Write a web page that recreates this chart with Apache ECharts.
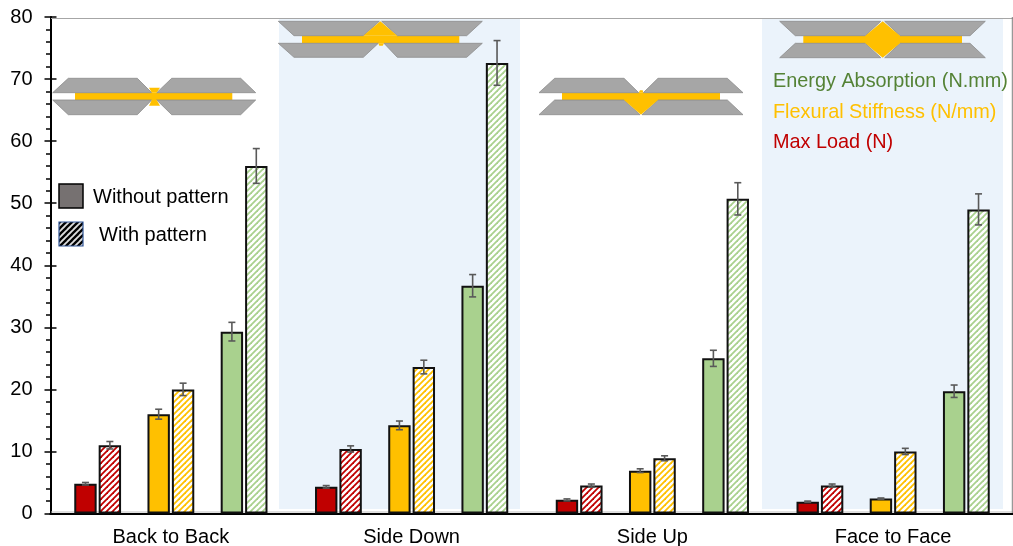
<!DOCTYPE html>
<html><head><meta charset="utf-8">
<style>html,body{margin:0;padding:0;background:#fff}#c{width:1013px;height:546px}</style>
<script src="https://cdn.jsdelivr.net/npm/echarts@6/dist/echarts.min.js"></script>
</head><body><div id="c"></div>
<script>
const categories = ['Back to Back','Side Down','Side Up','Face to Face'];
const maxLoadPlain = [4.8,4.3,2.2,1.9];
const maxLoadPattern = [11,10.4,4.5,4.5];
const stiffnessPlain = [16,14.2,6.9,2.4];
const stiffnessPattern = [20,23.6,8.9,10];
const energyPlain = [29.3,36.7,25,19.7];
const energyPattern = [56,72.6,50.7,49];
const maxLoadPlainErr = [0.2,0.2,0.15,0.1];
const maxLoadPatternErr = [0.6,0.5,0.25,0.25];
const stiffnessPlainErr = [0.8,0.7,0.3,0.1];
const stiffnessPatternErr = [1,1.1,0.4,0.5];
const energyPlainErr = [1.5,1.8,1.3,1.0];
const energyPatternErr = [2.8,3.6,2.6,2.5];
const legendLabels = ['Without pattern','With pattern'];
const metricLabels = ['Energy Absorption (N.mm)','Flexural Stiffness (N/mm)','Max Load (N)'];

const RED='#C00000', YEL='#FFC000', GRN='#A9D18E';
const FONT='"Liberation Sans",Arial,sans-serif';
const BAR_SHARE=0.093, BAR_GAP=0.09;
function hatch(color,bg,w){
  const p=6,c=document.createElement('canvas');c.width=p;c.height=p;
  const x=c.getContext('2d');x.fillStyle=bg||'#fff';x.fillRect(0,0,p,p);
  x.strokeStyle=color;x.lineWidth=w||1.8;
  [[-p,p,p,-p],[0,p,p,0],[0,2*p,2*p,0]].forEach(l=>{x.beginPath();x.moveTo(l[0],l[1]);x.lineTo(l[2],l[3]);x.stroke();});
  return {image:c,repeat:'repeat'};
}
const bar=(name,data,color)=>({name,type:'bar',data,barWidth:(BAR_SHARE*100)+'%',barGap:(BAR_GAP*100)+'%',
  itemStyle:{color,borderColor:'#111',borderWidth:2},emphasis:{disabled:true}});
const spacer=n=>({name:n,type:'bar',data:categories.map(()=>null),barWidth:(BAR_SHARE*100)+'%',barGap:(BAR_GAP*100)+'%'});

const sets=[[maxLoadPlain,maxLoadPlainErr,-3.5],[maxLoadPattern,maxLoadPatternErr,-2.5],
  [stiffnessPlain,stiffnessPlainErr,-0.5],[stiffnessPattern,stiffnessPatternErr,0.5],
  [energyPlain,energyPlainErr,2.5],[energyPattern,energyPatternErr,3.5]];
const errRows=[];
sets.forEach(s=>s[0].forEach((v,i)=>errRows.push([i,v-s[1][i],v+s[1][i],s[2]])));

const PLATE={fill:'#A6A6A6',stroke:'#8C8C8C',lineWidth:0.8};
const YS={fill:'#FFC000'};
const poly=(points,style)=>({type:'polygon',shape:{points},style,z:3,silent:true});
const rect=(x,y,w,h,style,z)=>({type:'rect',shape:{x,y,width:w,height:h},style,z:z==null?3:z,silent:true});
const line=(x1,y1,x2,y2,stroke,lineWidth)=>({type:'line',shape:{x1,y1,x2,y2},style:{stroke,lineWidth},z:1,silent:true});
const text=(x,y,t,fill,size)=>({type:'text',x,y,style:{text:t,fill,font:(size||19.85)+'px '+FONT,textVerticalAlign:'middle',textAlign:'left'},z:4,silent:true});

const graphics=[
 rect(279,18.5,241,490.5,{fill:'#EBF3FB'},0),
 rect(762,18.5,241,490.5,{fill:'#EBF3FB'},0),
 line(51,18.5,1013,18.5,'#A6A6A6',1),
 line(51,512,1013,512,'#BFBFBF',1),
 line(1012.3,17,1012.3,513,'#7F7F7F',1),
 // Back to Back
 rect(75,92.7,157.3,7.3,YS),
 poly([[52.7,92.7],[68.3,78.3],[137.3,78.3],[151.7,92.7]],PLATE),
 poly([[156.7,92.7],[171.7,78.3],[240.7,78.3],[255.7,92.7]],PLATE),
 poly([[52.7,100],[68.3,114.7],[137.3,114.7],[151.7,100]],PLATE),
 poly([[156.7,100],[171.7,114.7],[240.7,114.7],[255.7,100]],PLATE),
 poly([[149,87.7],[160,87.7],[156.7,92.7],[151.7,92.7]],YS),
 poly([[151.7,100],[156.7,100],[160,105.7],[149,105.7]],YS),
 // Side Down
 rect(302,35.7,157.3,7.6,YS),
 poly([[278.3,21.3],[294,35.7],[363.3,35.7],[379.3,21.3]],PLATE),
 poly([[381.7,21.3],[397.3,35.7],[466.7,35.7],[482.3,21.3]],PLATE),
 poly([[278.3,43.3],[294,57.3],[363.3,57.3],[378.3,43.3]],PLATE),
 poly([[384,43.3],[397.3,57.3],[466.7,57.3],[482.3,43.3]],PLATE),
 poly([[363.3,35.7],[380.3,21.3],[397.3,35.7]],YS),
 poly([[378.3,43.3],[384,43.3],[382.7,45.7],[379.3,45.7]],YS),
 // Side Up
 rect(562,92.7,158,7.3,YS),
 poly([[539,92.7],[554.7,78.3],[624,78.3],[638.7,92.7]],PLATE),
 poly([[643.3,92.7],[658,78.3],[727.3,78.3],[743,92.7]],PLATE),
 poly([[539,114.7],[554.7,100],[624,100],[640,114.7]],PLATE),
 poly([[642,114.7],[658,100],[727.3,100],[743,114.7]],PLATE),
 poly([[624,100],[641,114.7],[658,100]],YS),
 poly([[638.7,92.7],[640,90.3],[642.7,90.3],[643.3,92.7]],YS),
 // Face to Face
 rect(803.3,35.7,158.7,7.6,YS),
 poly([[779.7,21.3],[795.3,35.7],[865.3,35.7],[880.7,21.3]],PLATE),
 poly([[884.7,21.3],[900,35.7],[970,35.7],[985.3,21.3]],PLATE),
 poly([[779.7,57.7],[795.3,43.3],[865.3,43.3],[880.7,57.7]],PLATE),
 poly([[884.7,57.7],[900,43.3],[970,43.3],[985.3,57.7]],PLATE),
 poly([[882.7,21.3],[900,35.7],[900,43.3],[882.7,57.7],[865.3,43.3],[865.3,35.7]],YS),
 // legends
 rect(59,184,24,24,{fill:'#767171',stroke:'#000',lineWidth:1.5}),
 rect(59,222,24,24,{fill:hatch('#000','#ddd',2.3),stroke:'#2F5597',lineWidth:1.2}),
 text(93,197,legendLabels[0],'#000',20),
 text(99,235,legendLabels[1],'#000',20),
 text(773,82,metricLabels[0],'#548235'),
 text(773,112.5,metricLabels[1],'#FFC000'),
 text(773,142.5,metricLabels[2],'#C00000')
];

const chart=echarts.init(document.getElementById('c'),null,{renderer:'canvas'});
chart.setOption({
  animation:false,backgroundColor:'#fff',
  textStyle:{fontFamily:FONT},
  grid:{left:50.5,width:963,top:17,height:496.5,show:false,outerBoundsMode:'none',containLabel:false},
  xAxis:[
   {type:'category',data:categories,position:'bottom',axisLine:{lineStyle:{color:'#000',width:2}},axisTick:{show:false},
    axisLabel:{color:'#000',fontSize:20,margin:14,fontFamily:FONT},splitLine:{show:false}},
   {type:'category',data:categories,position:'top',axisLine:{show:true,lineStyle:{color:'#000',width:2}},axisTick:{show:false},axisLabel:{show:false}}
  ],
  yAxis:[
   {type:'value',min:0,max:80,interval:10,position:'left',splitLine:{show:false},
    axisLine:{show:true,lineStyle:{color:'#000',width:2}},
    axisTick:{show:true,length:6,lineStyle:{color:'#000',width:1.5}},
    minorTick:{show:true,splitNumber:5,length:4.5,lineStyle:{color:'#000',width:1.5}},
    axisLabel:{color:'#000',fontSize:20,margin:18,fontFamily:FONT,padding:[2,0,0,0]}},
   {type:'value',min:0,max:80,interval:10,position:'left',splitLine:{show:false},
    axisLine:{show:false},axisTick:{show:true,inside:true,length:6,lineStyle:{color:'#000',width:1.5}},axisLabel:{show:false}}
  ],
  series:[
   bar('Max Load, without pattern',maxLoadPlain,RED),
   bar('Max Load, with pattern',maxLoadPattern,hatch(RED)),
   spacer('gap1'),
   bar('Flexural Stiffness, without pattern',stiffnessPlain,YEL),
   bar('Flexural Stiffness, with pattern',stiffnessPattern,hatch(YEL)),
   spacer('gap2'),
   bar('Energy Absorption, without pattern',energyPlain,GRN),
   bar('Energy Absorption, with pattern',energyPattern,hatch(GRN)),
   {type:'custom',name:'error',data:errRows,z:5,silent:true,
    encode:{x:0,y:[1,2]},
    renderItem(params,api){
      const band=api.size([1,0])[0];
      const slot=band*BAR_SHARE*(1+BAR_GAP);
      const x0=api.coord([api.value(0),0])[0]+api.value(3)*slot;
      const lo=api.coord([api.value(0),api.value(1)])[1];
      const hi=api.coord([api.value(0),api.value(2)])[1];
      const c=3.5;
      const st={stroke:'#595959',lineWidth:1.6,fill:null};
      return {type:'group',children:[
        {type:'line',shape:{x1:x0,y1:lo,x2:x0,y2:hi},style:st},
        {type:'line',shape:{x1:x0-c,y1:lo,x2:x0+c,y2:lo},style:st},
        {type:'line',shape:{x1:x0-c,y1:hi,x2:x0+c,y2:hi},style:st}
      ]};
    }}
  ],
  graphic:graphics
});
</script></body></html>
